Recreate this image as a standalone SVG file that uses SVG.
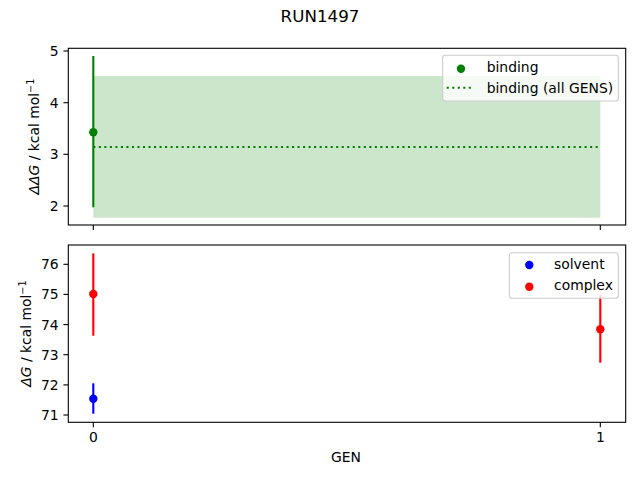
<svg xmlns="http://www.w3.org/2000/svg" width="640" height="480" viewBox="0 0 640 480">
<style>
text{font-family:"DejaVu Sans",sans-serif;font-size:13.9px;fill:#000}
.spine{fill:none;stroke:#000;stroke-width:1.1}
.tick{stroke:#000;stroke-width:1.1}
.yt{text-anchor:end}
.xt{text-anchor:middle}
.eb{stroke-width:2.1;fill:none}
.leg{fill:#fff;fill-opacity:0.8;stroke:#ccc;stroke-width:1.1}
.dot{stroke:green;stroke-width:2.1;stroke-dasharray:2.08 3.44;fill:none}
</style>
<rect width="640" height="480" fill="#fff"/>
<text x="320" y="22" text-anchor="middle" style="font-size:16.7px">RUN1497</text>

<g id="top-axes">
  <rect x="93.3" y="76" width="507" height="141.7" fill="green" fill-opacity="0.2"/>
  <line class="dot" x1="93.3" y1="147" x2="600.3" y2="147"/>
  <line class="eb" stroke="green" x1="93.3" y1="56" x2="93.3" y2="207.3"/>
  <circle cx="93.3" cy="132.3" r="4.2" fill="green"/>
  <rect class="spine" x="68.3" y="48.3" width="557.4" height="176.7"/>
  <g class="tick">
    <line x1="68.3" y1="51" x2="63.4" y2="51"/>
    <line x1="68.3" y1="102.7" x2="63.4" y2="102.7"/>
    <line x1="68.3" y1="154.3" x2="63.4" y2="154.3"/>
    <line x1="68.3" y1="206" x2="63.4" y2="206"/>
    <line x1="93.3" y1="225" x2="93.3" y2="229.9"/>
    <line x1="600.3" y1="225" x2="600.3" y2="229.9"/>
  </g>
  <text class="yt" x="58.6" y="56">5</text>
  <text class="yt" x="58.6" y="107.7">4</text>
  <text class="yt" x="58.6" y="159.3">3</text>
  <text class="yt" x="58.6" y="211">2</text>
  <text transform="translate(38.5,136.6) rotate(-90)" text-anchor="middle"><tspan font-style="italic">ΔΔG</tspan> / kcal mol<tspan dy="-5" style="font-size:9.7px">−1</tspan></text>
  <g id="legend-top">
    <rect class="leg" x="442.7" y="55.3" width="175.6" height="45.7" rx="2.8"/>
    <circle cx="461" cy="68.7" r="4.2" fill="green"/>
    <text x="486.7" y="71.7">binding</text>
    <line class="dot" x1="446.7" y1="87.7" x2="474" y2="87.7"/>
    <text x="486.7" y="92.5">binding (all GENS)</text>
  </g>
</g>

<g id="bottom-axes">
  <line class="eb" stroke="red" x1="93.3" y1="253.3" x2="93.3" y2="335.7"/>
  <circle cx="93.3" cy="294" r="4.2" fill="red"/>
  <line class="eb" stroke="blue" x1="93.3" y1="383.3" x2="93.3" y2="413.7"/>
  <circle cx="93.3" cy="398.7" r="4.2" fill="blue"/>
  <line class="eb" stroke="red" x1="600.3" y1="295" x2="600.3" y2="362.7"/>
  <circle cx="600.3" cy="329.3" r="4.2" fill="red"/>
  <rect class="spine" x="68.3" y="245" width="557.4" height="177.3"/>
  <g class="tick">
    <line x1="68.3" y1="264.3" x2="63.4" y2="264.3"/>
    <line x1="68.3" y1="294.4" x2="63.4" y2="294.4"/>
    <line x1="68.3" y1="324.6" x2="63.4" y2="324.6"/>
    <line x1="68.3" y1="354.7" x2="63.4" y2="354.7"/>
    <line x1="68.3" y1="384.9" x2="63.4" y2="384.9"/>
    <line x1="68.3" y1="415" x2="63.4" y2="415"/>
    <line x1="93.3" y1="422.3" x2="93.3" y2="427.2"/>
    <line x1="600.3" y1="422.3" x2="600.3" y2="427.2"/>
  </g>
  <text class="yt" x="58.6" y="269.3">76</text>
  <text class="yt" x="58.6" y="299.4">75</text>
  <text class="yt" x="58.6" y="329.6">74</text>
  <text class="yt" x="58.6" y="359.7">73</text>
  <text class="yt" x="58.6" y="389.9">72</text>
  <text class="yt" x="58.6" y="420">71</text>
  <text class="xt" x="93.3" y="442">0</text>
  <text class="xt" x="600.3" y="442">1</text>
  <text class="xt" x="346" y="462.3">GEN</text>
  <text transform="translate(30.5,333.6) rotate(-90)" text-anchor="middle"><tspan font-style="italic">ΔG</tspan> / kcal mol<tspan dy="-5" style="font-size:9.7px">−1</tspan></text>
  <g id="legend-bottom">
    <rect class="leg" x="509.3" y="252.7" width="109" height="45.6" rx="2.8"/>
    <circle cx="529.3" cy="265" r="4.2" fill="blue"/>
    <text x="554" y="268.5">solvent</text>
    <circle cx="529.3" cy="286.7" r="4.2" fill="red"/>
    <text x="554" y="289.5">complex</text>
  </g>
</g>
</svg>
